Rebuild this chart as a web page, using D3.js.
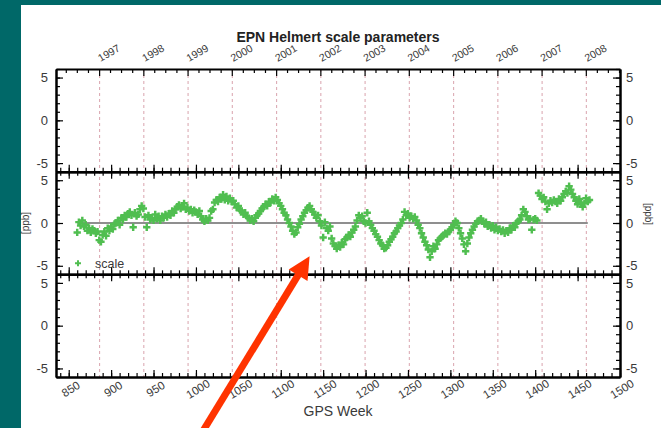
<!DOCTYPE html>
<html>
<head>
<meta charset="utf-8">
<script src="https://cdn.jsdelivr.net/npm/d3@7"></script>
<style>
  body { margin: 0; background: #006868; }
  svg { display: block; font-family: "Liberation Sans", Arial, sans-serif; }
  .axis path { stroke: #000; stroke-width: 2; }
  .axis line { stroke: #000; stroke-width: 1.2; }
  .axis text { fill: #3a3a3a; font-size: 13px; }
  .lbl { fill: #3a3a3a; }
</style>
</head>
<body>
<svg id="chart"></svg>
<script>
// tick labels
var years = [1997, 1998, 1999, 2000, 2001, 2002, 2003, 2004, 2005, 2006, 2007, 2008];
var weekTicks = [850, 900, 950, 1000, 1050, 1100, 1150, 1200, 1250, 1300, 1350, 1400, 1450, 1500];
var panelTicks = [-5, 0, 5];

// scale parameter [ppb], one value every 2nd GPS week starting at week 860
var scaleStart = 860;
var scaleValues = [
  -1.1, 0.1, -0.3, 0.3, -0.4, -0.2, -0.9, -0.6, -1.1, -0.7,
  -0.9, -1.2, -1.0, -2.0, -2.2, -1.4, -1.0, -1.5, -0.6, -0.9,
  -0.4, -0.7, -0.1, 0.0, 0.3, -0.2, 0.6, 0.4, 0.9, 0.7,
  1.1, 1.3, 0.9, -0.5, 1.2, 0.8, 1.0, 1.6, 2.0, 1.7,
  0.7, -0.5, 0.9, 0.4, 0.6, 0.3, 1.0, 0.5, 0.8, 0.3,
  0.8, 0.6, 1.0, 0.7, 1.1, 0.9, 1.4, 1.2, 1.6, 1.9,
  2.1, 1.7, 1.9, 2.3, 1.6, 1.8, 1.4, 1.6, 1.2, 1.5,
  1.3, 1.0, 1.4, 0.8, 0.4, 0.2, 0.5, 0.3, 0.6, 1.4,
  1.6, 2.4, 2.7, 2.5, 3.0, 2.8, 3.3, 2.7, 3.1, 2.6,
  2.9, 2.5, 2.6, 2.2, 1.8, 2.0, 1.5, 1.4, 1.0, 1.2,
  0.8, 0.6, 0.3, 0.5, 0.2, 0.6, 0.9, 1.1, 1.4, 1.7,
  1.9, 2.2, 2.0, 2.5, 2.4, 2.8, 2.6, 3.0, 2.7, 2.3,
  2.0, 1.6, 1.2, 0.9, 0.4, 0.0, -0.4, -0.9, -1.3, -1.1,
  -0.5, -0.1, 0.4, 0.8, 1.2, 1.5, 1.8, 2.0, 1.6, 1.3,
  1.0, 0.6, 0.9, 0.2, -0.3, -1.7, 0.1, -0.6, -0.9, -0.4,
  -1.8, -2.4, -2.7, -3.0, -2.6, -2.8, -2.3, -2.5, -1.9, -1.7,
  -1.4, -1.6, -1.1, -0.8, -0.4, 0.3, 0.9, 0.6, 0.8, 0.2,
  0.0, 1.2, 0.2, -0.2, -0.6, -0.9, -1.3, -1.6, -2.0, -2.4,
  -2.6, -3.0, -2.9, -2.6, -2.2, -1.9, -1.6, -1.2, -1.0, -0.6,
  -0.3, 0.0, 0.4, 1.3, 0.9, 1.1, 0.6, 0.8, 0.5, 0.7,
  0.3, -0.2, -0.6, -1.2, -1.7, -2.2, -2.6, -3.1, -4.0, -3.3,
  -2.7, -3.0, -2.5, -2.0, -1.8, -1.6, -1.4, -1.2, -1.3, -1.0,
  -0.8, -0.5, -0.2, 0.2, 0.0, -0.6, -1.2, -1.8, -2.5, -3.3,
  -2.4, -1.7, -1.2, -0.8, -0.4, -0.1, 0.2, 0.3, 0.5, 0.2,
  -0.1, 0.1, -0.4, -0.2, -0.6, -0.3, -0.8, -0.5, -0.9, -0.7,
  -1.0, -0.8, -1.2, -0.9, -1.1, -0.6, -0.8, -0.3, -0.5, 0.0,
  0.2, 0.4, 0.9, 1.6, 1.3, 0.8, 0.4, 0.5, -0.8, 0.4,
  0.5, 0.3, 3.5, 3.2, 2.8, 3.0, 2.5, 1.6, 2.3, 2.6,
  2.4, 2.7, 2.5, 2.3, 2.8, 2.6, 3.0, 3.4, 3.7, 3.5,
  4.3, 3.9, 3.4, 3.0, 2.6, 2.2, 2.8, 2.4, 1.9, 2.3,
  2.9, 2.5, 2.7
];
var zeroLine = [860, 1462];

var width = 661, height = 428;
var margin = {top: 69, right: 41, bottom: 51, left: 56};
var panelH = (height - margin.top - margin.bottom) / 3;

var svg = d3.select("#chart").attr("width", width).attr("height", height);

// teal frame + white sheet
svg.append("rect").attr("width", width).attr("height", height).attr("fill", "#006868");
svg.append("rect").attr("x", 21).attr("y", 5).attr("width", width - 21).attr("height", height - 5).attr("fill", "#fff");

var x = d3.scaleLinear().domain([835, 1500]).range([margin.left, width - margin.right]);

// GPS week of a date (week 0 starts 1980-01-06)
function gpsWeek(date){
  return (date - Date.UTC(1980, 0, 6)) / (7 * 864e5);
}

var panels = [0, 1, 2].map(function(i){
  var top = margin.top + i * panelH;
  return {top: top, bottom: top + panelH,
          y: d3.scaleLinear().domain([-6, 6]).range([top + panelH, top])};
});

//Year boundaries as dotted lines
svg.selectAll(".year-line")
  .data(years)
  .enter().append("line")
    .attr("class", "year-line")
    .attr("x1", function(d){ return x(gpsWeek(Date.UTC(d, 0, 1))); })
    .attr("x2", function(d){ return x(gpsWeek(Date.UTC(d, 0, 1))); })
    .attr("y1", margin.top)
    .attr("y2", height - margin.bottom)
    .style("stroke", "#d9a3ad")
    .style("stroke-width", 1)
    .style("stroke-dasharray", "3,3");

svg.selectAll(".year-label")
  .data(years)
  .enter().append("text")
    .attr("class", "lbl")
    .attr("transform", function(d){ return "translate(" + (x(gpsWeek(Date.UTC(d, 0, 1))) + 1) + ",62) rotate(-30)"; })
    .style("font-size", "10.5px")
    .text(function(d){ return d; });

//Zero line and scale points in the middle panel
var p2 = panels[1];
svg.append("line")
  .attr("x1", x(zeroLine[0])).attr("x2", x(zeroLine[1]))
  .attr("y1", p2.y(0)).attr("y2", p2.y(0))
  .style("stroke", "#6a6a6a")
  .style("stroke-width", 1.5);

var marker = d3.symbol().type(d3.symbolCross).size(30);
var green = "#50be50";

svg.append("g").selectAll("path")
  .data(scaleValues)
  .enter().append("path")
    .attr("transform", function(d, i){ return "translate(" + x(scaleStart + 2 * i) + "," + p2.y(d) + ")"; })
    .attr("d", marker)
    .attr("fill", green);

//Legend
svg.append("path")
  .attr("transform", "translate(" + (margin.left + 22) + "," + (p2.bottom - 11) + ")")
  .attr("d", d3.symbol().type(d3.symbolCross).size(20))
  .attr("fill", green);
svg.append("text")
  .attr("class", "lbl")
  .attr("x", margin.left + 39)
  .attr("y", p2.bottom - 6.5)
  .style("font-size", "12.5px")
  .text("scale");

//Axes of every panel, ticks pointing inward
var minorWeeks = d3.range(840, 1501, 10);
var plain = function(d){ return String(d); };
panels.forEach(function(p, i){
  svg.append("g").attr("class", "axis")
    .attr("transform", "translate(" + margin.left + ",0)")
    .call(d3.axisLeft(p.y).tickValues(d3.range(-6, 7)).tickSize(-4).tickSizeOuter(0).tickFormat(""));
  svg.append("g").attr("class", "axis")
    .attr("transform", "translate(" + margin.left + ",0)")
    .call(d3.axisLeft(p.y).tickValues(panelTicks).tickSize(-7).tickSizeOuter(0).tickPadding(8).tickFormat(plain));
  svg.append("g").attr("class", "axis")
    .attr("transform", "translate(" + (width - margin.right) + ",0)")
    .call(d3.axisRight(p.y).tickValues(d3.range(-6, 7)).tickSize(-4).tickSizeOuter(0).tickFormat(""));
  svg.append("g").attr("class", "axis")
    .attr("transform", "translate(" + (width - margin.right) + ",0)")
    .call(d3.axisRight(p.y).tickValues(panelTicks).tickSize(-7).tickSizeOuter(0).tickPadding(6).tickFormat(plain));

  svg.append("g").attr("class", "axis")
    .attr("transform", "translate(0," + p.bottom + ")")
    .call(d3.axisBottom(x).tickValues(minorWeeks).tickSize(-4).tickSizeOuter(0).tickFormat(""));
  svg.append("g").attr("class", "axis")
    .attr("transform", "translate(0," + p.bottom + ")")
    .call(d3.axisBottom(x).tickValues(weekTicks).tickSize(-7).tickSizeOuter(0).tickFormat(""));

  if(i > 0){
    svg.append("g").attr("class", "axis")
      .attr("transform", "translate(0," + p.top + ")")
      .call(d3.axisTop(x).tickValues(minorWeeks).tickSize(-4).tickSizeOuter(0).tickFormat(""));
    svg.append("g").attr("class", "axis")
      .attr("transform", "translate(0," + p.top + ")")
      .call(d3.axisTop(x).tickValues(weekTicks).tickSize(-7).tickSizeOuter(0).tickFormat(""));
  }
});

//Top axis in calendar time: quarter ticks, longer at year starts
var quarters = d3.utcMonth.every(3).range(new Date(Date.UTC(1996, 0, 1)), new Date(Date.UTC(2008, 11, 1)))
  .map(function(d){ return {w: gpsWeek(+d), major: d.getUTCMonth() === 0}; })
  .filter(function(d){ return d.w >= 835 && d.w <= 1500; });
svg.append("g").attr("class", "axis")
  .attr("transform", "translate(0," + margin.top + ")")
  .call(d3.axisTop(x).tickValues([]).tickSizeOuter(0));
svg.append("g").selectAll("line")
  .data(quarters)
  .enter().append("line")
    .attr("x1", function(d){ return x(d.w); })
    .attr("x2", function(d){ return x(d.w); })
    .attr("y1", margin.top)
    .attr("y2", function(d){ return margin.top + (d.major ? 7 : 4); })
    .style("stroke", "#000")
    .style("stroke-width", 1.2);

//Bottom labels
svg.selectAll(".week-label")
  .data(weekTicks)
  .enter().append("text")
    .attr("class", "lbl")
    .attr("transform", function(d){ return "translate(" + (x(d) + 2) + "," + (height - margin.bottom + 12) + ") rotate(-32)"; })
    .attr("text-anchor", "middle")
    .attr("dy", "0.35em")
    .style("font-size", "11.5px")
    .text(function(d){ return d; });

svg.append("text")
  .attr("class", "lbl")
  .attr("x", (margin.left + width - margin.right) / 2)
  .attr("y", 416)
  .attr("text-anchor", "middle")
  .style("font-size", "14px")
  .text("GPS Week");

svg.append("text")
  .attr("transform", "translate(25," + p2.y(0) + ") rotate(-90)")
  .attr("class", "lbl")
  .attr("text-anchor", "middle")
  .attr("dy", "0.35em")
  .style("font-size", "10px")
  .text("[ppb]");

svg.append("text")
  .attr("transform", "translate(648," + (p2.y(0) - 9) + ") rotate(90)")
  .attr("class", "lbl")
  .attr("text-anchor", "middle")
  .attr("dy", "0.35em")
  .style("font-size", "10px")
  .text("[ppb]");

//Title
svg.append("text")
  .attr("x", 338)
  .attr("y", 42)
  .attr("text-anchor", "middle")
  .style("font-size", "14px")
  .style("font-weight", "bold")
  .style("fill", "#222")
  .text("EPN Helmert scale parameters");

//Red annotation arrow
var tip = [x(1134), p2.y(-3.9)];
var tail = [x(1009), height + 2];
var len = Math.hypot(tip[0] - tail[0], tip[1] - tail[1]);
var u = [(tip[0] - tail[0]) / len, (tip[1] - tail[1]) / len];
var n = [-u[1], u[0]];
var headL = 22, headW = 11;
var base = [tip[0] - headL * u[0], tip[1] - headL * u[1]];
svg.append("line")
  .attr("x1", tail[0]).attr("y1", tail[1])
  .attr("x2", base[0] + 2 * u[0]).attr("y2", base[1] + 2 * u[1])
  .style("stroke", "#ff3300")
  .style("stroke-width", 7);
svg.append("path")
  .attr("d", "M" + tip + "L" + [base[0] + headW * n[0], base[1] + headW * n[1]] +
             "L" + [base[0] - headW * n[0], base[1] - headW * n[1]] + "Z")
  .attr("fill", "#ff3300");
</script>
</body>
</html>
